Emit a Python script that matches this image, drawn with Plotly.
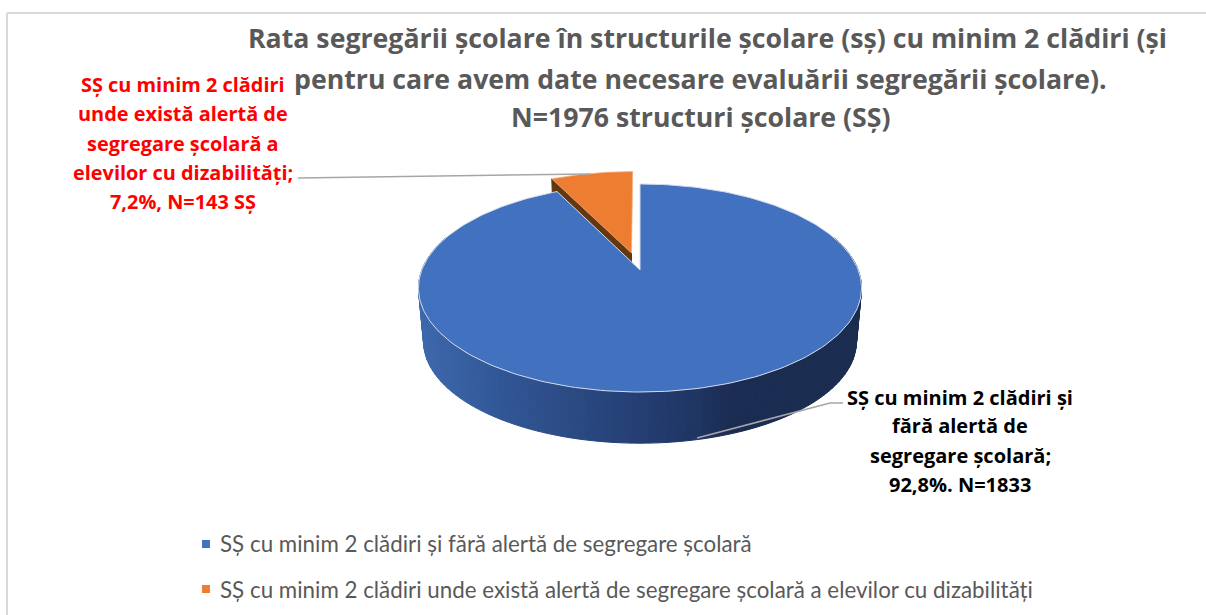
import numpy as np
import plotly.graph_objects as go

# date
categories = [
    "SȘ cu minim 2 clădiri și fără alertă de segregare școlară",
    "SȘ cu minim 2 clădiri unde există alertă de segregare școlară a elevilor cu dizabilități",
]
values = [1833, 143]
colors = ["#4271c0", "#ed7d31"]
title_lines = [
    "Rata segregării școlare în structurile școlare (sș) cu minim 2 clădiri (și",
    "pentru care avem date necesare evaluării segregării școlare).",
    "N=1976 structuri școlare (SȘ)",
]
label_red = [
    "SȘ cu minim 2 clădiri",
    "unde există alertă de",
    "segregare școlară a",
    "elevilor cu dizabilități;",
    "7,2%, N=143 SȘ",
]
label_black = [
    "SȘ cu minim 2 clădiri și",
    "fără alertă de",
    "segregare școlară;",
    "92,8%. N=1833",
]

FONT = "Open Sans, sans-serif"
LEGEND_FONT = "Lato, sans-serif"
GREY = "#595959"
LEADER = "#a6a6a6"

# pie in perspectiva: cerc unitate proiectat pe axele figurii
CX, CY = 640, 270
A, B, K = 218.2, 100.9, 0.173
DEPTH, BOTTOM_SCALE = 54, 0.977
EXPLODE = 0.178


def project(X, Y, bottom=False):
    d = 1 + K * Y
    s = BOTTOM_SCALE if bottom else 1
    return CX + s * A * X / d, CY + (DEPTH if bottom else 0) - s * B * Y / d


def arc(start, end, n=240):
    t = np.radians(np.linspace(start, end, n))
    return -np.sin(t), np.cos(t)


def wall_color(px):
    stops_x = [423, 500, 640, 700, 735, 855]
    stops = np.array([[61, 104, 172], [50, 87, 150], [37, 63, 115], [31, 53, 98], [27, 44, 82], [26, 44, 80]])
    rgb = [np.interp(px, stops_x, stops[:, i]) for i in range(3)]
    return "rgb(%d,%d,%d)" % tuple(rgb)


total = sum(values)
orange_angle = 360 * values[1] / total
mid = np.radians(orange_angle / 2)
ox, oy = -EXPLODE * np.sin(mid), EXPLODE * np.cos(mid)

fig = go.Figure()


def add_poly(x, y, fill, line=None, width=1):
    fig.add_trace(go.Scatter(
        x=x, y=y, mode="lines", fill="toself", fillcolor=fill,
        line=dict(color=line or fill, width=width),
        hoverinfo="skip", showlegend=False,
    ))


# fata laterala a feliei portocalii (ramane vizibila doar o fasie)
ax, ay = project(ox, oy)
abx, aby = project(ox, oy, True)
cX, cY = ox - np.sin(2 * mid), oy + np.cos(2 * mid)
bx, by = project(cX, cY)
bbx, bby = project(cX, cY, True)
add_poly([ax, bx, bbx, abx, ax], [ay, by, bby, aby, ay], "#63370f")

# felia portocalie
X, Y = arc(0, orange_angle)
px, py = project(X + ox, Y + oy)
add_poly(np.r_[ax, px, ax], np.r_[ay, py, ay], colors[1], "#f4b183", 0.75)

# peretele albastru, fasii cu gradient
edges = np.arange(70, 292, 2)
for a0, a1 in zip(edges[:-1], edges[1:]):
    X, Y = arc(a0, a1, 4)
    tx, ty = project(X, Y)
    lx, ly = project(X, Y, True)
    add_poly(np.r_[tx, lx[::-1], tx[0]], np.r_[ty, ly[::-1], ty[0]], wall_color(tx.mean()))

# felia albastra
X, Y = arc(orange_angle, 360)
px, py = project(X, Y)
add_poly(np.r_[CX, px, CX], np.r_[CY, py, CY], colors[0], "#d3dcec", 1)

# linii de legatura
fig.add_trace(go.Scatter(x=[298, 590], y=[178, 174], mode="lines", line=dict(color=LEADER, width=1.5),
                         hoverinfo="skip", showlegend=False))
fig.add_trace(go.Scatter(x=[843, 830, 697], y=[403, 403, 438], mode="lines", line=dict(color=LEADER, width=1.5),
                         hoverinfo="skip", showlegend=False))

# marcaje legenda
fig.add_trace(go.Scatter(x=[206, 206], y=[544, 589], mode="markers",
                         marker=dict(symbol="square", size=8, color=colors),
                         hoverinfo="skip", showlegend=False))


def text(x, y, s, size, color, bold=False, anchor="center", family=FONT):
    fig.add_annotation(
        x=x, y=y, text="<b>%s</b>" % s if bold else s, showarrow=False, xanchor=anchor, yanchor="middle",
        font=dict(family=family, size=size, color=color),
    )


for s, x, y in zip(title_lines, [707, 700, 701], [37, 78, 116]):
    text(x, y, s, 26.7, GREY, True)
for s, y in zip(label_red, [84, 113, 143, 172, 201]):
    text(183, y, s, 19.9, "#ff0000", True)
for s, y in zip(label_black, [397, 425, 455, 484]):
    text(960, y, s, 20, "#000000", True)
for s, y in zip(categories, [543, 589]):
    text(218, y, s, 22.35, GREY, False, "left", LEGEND_FONT)

fig.update_layout(
    width=1206, height=615,
    margin=dict(l=0, r=0, t=0, b=0),
    paper_bgcolor="white", plot_bgcolor="white",
    showlegend=False,
    xaxis=dict(range=[0, 1206], visible=False, fixedrange=True),
    yaxis=dict(range=[615, 0], visible=False, fixedrange=True),
    shapes=[
        dict(type="line", x0=7, x1=1206, y0=13, y1=13, line=dict(color="#d9d9d9", width=2)),
        dict(type="line", x0=7, x1=7, y0=13, y1=615, line=dict(color="#d9d9d9", width=2)),
    ],
)

fig.write_html("out.html", config=dict(displayModeBar=False),
               post_script="document.body.style.margin='0';document.body.style.overflow='hidden';")
